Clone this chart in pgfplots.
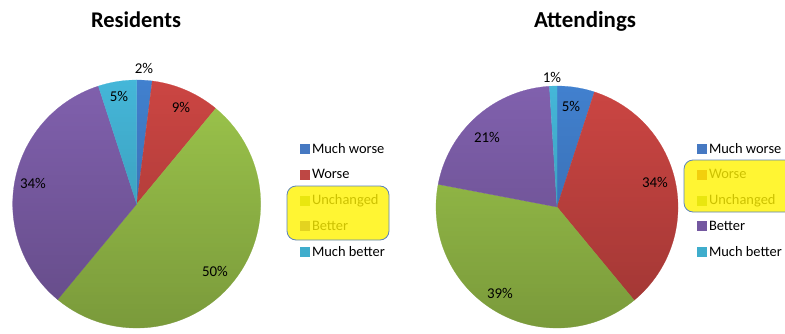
\documentclass[border=0pt]{standalone}
\usepackage{fontspec}
\setmainfont{Carlito}
\usepackage{pgfplots}
\pgfplotsset{compat=1.18}
\usetikzlibrary{fadings}
\tikzfading[name=pieshade, top color=transparent!100, bottom color=transparent!0]
\definecolor{cMW}{HTML}{4281CF}
\definecolor{cW}{HTML}{CC4643}
\definecolor{cU}{HTML}{9DC64C}
\definecolor{cB}{HTML}{8161AE}
\definecolor{cMB}{HTML}{45B7D9}
\definecolor{lMW}{HTML}{4679C2}
\definecolor{lW}{HTML}{BE4744}
\definecolor{lU}{HTML}{92B74C}
\definecolor{lB}{HTML}{7458A0}
\definecolor{lMB}{HTML}{3FADCC}
\definecolor{hlborder}{HTML}{5B82BD}
% \slice{cumulative percent before}{percent}{colour}
\newcommand{\slice}[3]{\addplot[draw=#3, line width=0.2pt, fill=#3, domain={90-3.6*(#1+#2)}:{90-3.6*(#1)}, samples=60, variable=\t, forget plot] ({cos(\t)},{sin(\t)}) -- (axis cs:0,0) -- cycle;}
\pgfplotsset{
  pieaxis/.style={
    xmin=-1, xmax=1, ymin=-1, ymax=1, hide axis, anchor=origin, clip=false,
    legend cell align=left,
    legend style={draw=none, fill=none, inner sep=0pt, outer sep=0pt,
      font=\fontsize{14.5}{17}\selectfont, row sep=10.5bp, anchor=north west},
    legend image code/.code={\fill[draw=none,##1] (0bp,-5bp) rectangle (10bp,5bp);},
  }
}
\begin{document}
\begin{tikzpicture}[x=1bp, y=1bp]
\useasboundingbox (0,0) rectangle (785,333);
% ---------------- Residents ----------------
\begin{axis}[pieaxis, x=124bp, y=124bp, at={(136.7bp,129bp)},
  legend style={at={(1.1585,0.752)}}]
\slice{0}{2}{cMW}
\slice{2}{9}{cW}
\slice{11}{50}{cU}
\slice{61}{34}{cB}
\slice{95}{5}{cMB}
\addlegendimage{fill=lMW}\addlegendentry{Much worse}
\addlegendimage{fill=lW}\addlegendentry{Worse}
\addlegendimage{fill=lU}\addlegendentry{Unchanged}
\addlegendimage{fill=lB}\addlegendentry{Better}
\addlegendimage{fill=lMB}\addlegendentry{Much better}
\end{axis}
% ---------------- Attendings ----------------
\begin{axis}[pieaxis, x=121bp, y=121bp, at={(557bp,126bp)},
  legend style={at={(1.0785,0.770)}}]
\slice{0}{5}{cMW}
\slice{5}{34}{cW}
\slice{39}{39}{cU}
\slice{78}{21}{cB}
\slice{99}{1}{cMB}
\addlegendimage{fill=lMW}\addlegendentry{Much worse}
\addlegendimage{fill=lW}\addlegendentry{Worse}
\addlegendimage{fill=lU}\addlegendentry{Unchanged}
\addlegendimage{fill=lB}\addlegendentry{Better}
\addlegendimage{fill=lMB}\addlegendentry{Much better}
\end{axis}
% vertical shading of the pies (lighter at top, darker at bottom)
\fill[black, opacity=0.22, path fading=pieshade] (136.7,129) circle[radius=124.2];
\fill[black, opacity=0.22, path fading=pieshade] (557,126) circle[radius=121.2];
% titles
\node[anchor=base, font=\bfseries\fontsize{22.5}{27}\selectfont] at (136,306) {Residents};
\node[anchor=base, font=\bfseries\fontsize{23}{27}\selectfont] at (585,306) {Attendings};
% data labels
\begin{scope}[every node/.style={font=\fontsize{15}{18}\selectfont, inner sep=0pt}]
\node at (144,265) {2\%};
\node at (181,226) {9\%};
\node at (119,237) {5\%};
\node at (33,150) {34\%};
\node at (215,62) {50\%};
\node at (552,256) {1\%};
\node at (571,227) {5\%};
\node at (487,196) {21\%};
\node at (655,151) {34\%};
\node at (500,40) {39\%};
\end{scope}
% highlight boxes
\draw[rounded corners=9bp, fill=yellow, fill opacity=0.8, draw=hlborder, line width=0.8bp] (287,147) rectangle (389,93);
\draw[rounded corners=9bp, fill=yellow, fill opacity=0.8, draw=hlborder, line width=0.8bp] (684,173) rectangle (795,121);
\end{tikzpicture}
\end{document}
